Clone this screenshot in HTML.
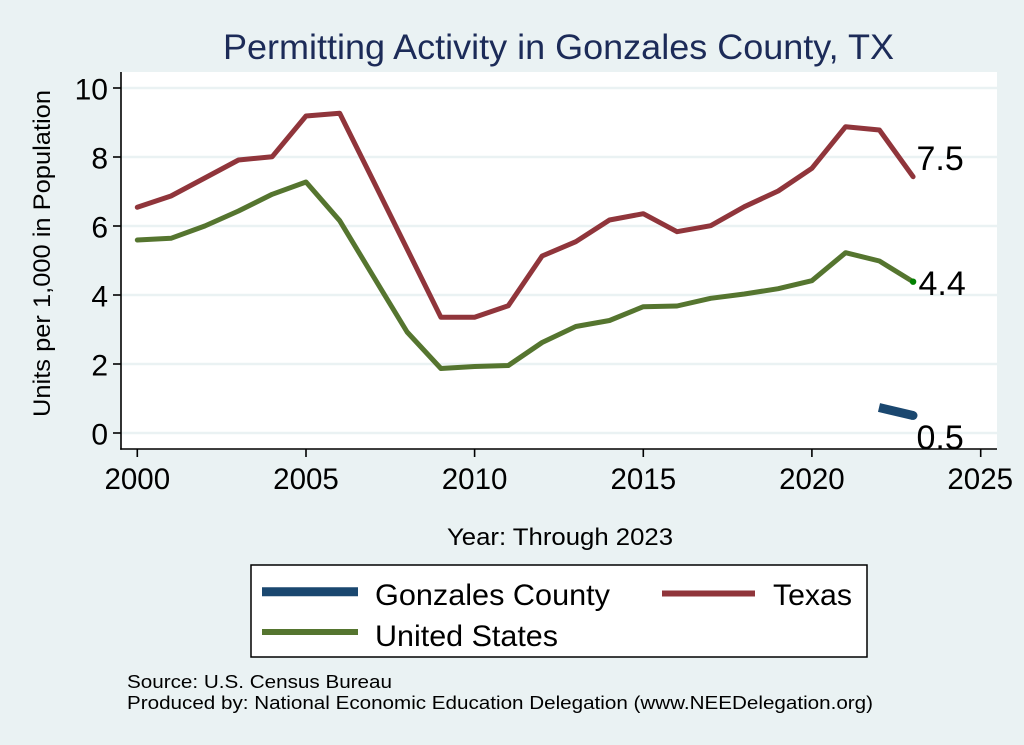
<!DOCTYPE html>
<html>
<head>
<meta charset="utf-8">
<style>
  html,body{margin:0;padding:0;background:#eaf2f3;}
  svg{display:block;}
  text{font-family:"Liberation Sans",Arial,Helvetica,sans-serif;}
</style>
</head>
<body>
<svg width="1024" height="745" viewBox="0 0 1024 745" xmlns="http://www.w3.org/2000/svg">
  <rect x="0" y="0" width="1024" height="745" fill="#eaf2f3"/>
  <!-- Title -->
  <text x="223" y="59" font-size="35" fill="#1c2b58" textLength="671" lengthAdjust="spacingAndGlyphs">Permitting Activity in Gonzales County, TX</text>

  <!-- Plot region -->
  <rect x="121" y="72" width="876" height="377" fill="#ffffff"/>
  <!-- gridlines -->
  <g stroke="#eaf2f3" stroke-width="2.5">
    <line x1="121" y1="88" x2="997" y2="88"/>
    <line x1="121" y1="157" x2="997" y2="157"/>
    <line x1="121" y1="226" x2="997" y2="226"/>
    <line x1="121" y1="295" x2="997" y2="295"/>
    <line x1="121" y1="364" x2="997" y2="364"/>
    <line x1="121" y1="433" x2="997" y2="433"/>
  </g>

  <!-- Axes -->
  <g stroke="#000" stroke-width="1.6" fill="none">
    <line x1="121" y1="72" x2="121" y2="449.8"/>
    <line x1="120.2" y1="449" x2="997" y2="449"/>
    <!-- y ticks -->
    <line x1="113" y1="88" x2="121" y2="88"/>
    <line x1="113" y1="157" x2="121" y2="157"/>
    <line x1="113" y1="226" x2="121" y2="226"/>
    <line x1="113" y1="295" x2="121" y2="295"/>
    <line x1="113" y1="364" x2="121" y2="364"/>
    <line x1="113" y1="433" x2="121" y2="433"/>
    <!-- x ticks -->
    <line x1="137.3" y1="449" x2="137.3" y2="457"/>
    <line x1="306" y1="449" x2="306" y2="457"/>
    <line x1="474.6" y1="449" x2="474.6" y2="457"/>
    <line x1="643.3" y1="449" x2="643.3" y2="457"/>
    <line x1="811.9" y1="449" x2="811.9" y2="457"/>
    <line x1="980.7" y1="449" x2="980.7" y2="457"/>
  </g>

  <!-- Y tick labels -->
  <g font-size="30" fill="#000" text-anchor="end">
    <text x="108" y="99.5">10</text>
    <text x="108" y="168.5">8</text>
    <text x="108" y="237.5">6</text>
    <text x="108" y="306.5">4</text>
    <text x="108" y="375.5">2</text>
    <text x="108" y="444.5">0</text>
  </g>
  <!-- X tick labels -->
  <g font-size="29.5" fill="#000" text-anchor="middle">
    <text x="137.3" y="489">2000</text>
    <text x="306" y="489">2005</text>
    <text x="474.6" y="489">2010</text>
    <text x="643.3" y="489">2015</text>
    <text x="811.9" y="489">2020</text>
    <text x="980.2" y="489">2025</text>
  </g>

  <!-- Axis titles -->
  <text transform="translate(50,253.5) rotate(-90)" font-size="24" text-anchor="middle" fill="#000" textLength="327" lengthAdjust="spacingAndGlyphs">Units per 1,000 in Population</text>
  <text x="447" y="545" font-size="24" fill="#000" textLength="226" lengthAdjust="spacingAndGlyphs">Year: Through 2023</text>

  <!-- Series -->
  <polyline fill="none" stroke="#90353b" stroke-width="5" stroke-linejoin="round" stroke-linecap="round"
    points="137.3,207.3 171,196 204.8,178 238.5,160 272.2,156.7 306,116 339.7,113.3 373.4,181 407.1,249 440.9,317.3 474.6,317.3 508.3,305.7 542.1,256 575.8,241.7 609.5,220 643.3,213.7 677,231.7 710.7,225.7 744.4,206.7 778.2,191 811.9,168.3 845.6,126.7 879.4,130 913.1,176.7"/>
  <polyline fill="none" stroke="#55752f" stroke-width="5" stroke-linejoin="round" stroke-linecap="round"
    points="137.3,240 171,238.3 204.8,226 238.5,211 272.2,194.3 306,182 339.7,220.7 373.4,276.5 407.1,332 440.9,368.5 474.6,366.5 508.3,365.5 542.1,342.5 575.8,326.5 609.5,320.5 643.3,306.7 677,306 710.7,298.3 744.4,294 778.2,288.7 811.9,280.7 845.6,252.7 879.4,261 913.1,281.7"/>
  <circle cx="913.1" cy="281.7" r="3.2" fill="#008000"/>
  <line x1="879" y1="407.5" x2="913" y2="415.5" stroke="#1a476f" stroke-width="9" stroke-linecap="butt"/>
  <circle cx="913" cy="415.5" r="4.5" fill="#1a476f"/>

  <!-- End labels -->
  <g font-size="34" fill="#000">
    <text x="916.5" y="170">7.5</text>
    <text x="918.5" y="295">4.4</text>
    <text x="916.5" y="449">0.5</text>
  </g>

  <!-- Legend -->
  <rect x="251" y="565" width="616" height="92" fill="#ffffff" stroke="#000" stroke-width="1.5"/>
  <line x1="262" y1="591.7" x2="358" y2="591.7" stroke="#1a476f" stroke-width="9"/>
  <line x1="662" y1="593.5" x2="755" y2="593.5" stroke="#90353b" stroke-width="6"/>
  <line x1="262" y1="632" x2="358" y2="632" stroke="#55752f" stroke-width="6"/>
  <g font-size="30" fill="#000">
    <text x="375" y="605" textLength="235" lengthAdjust="spacingAndGlyphs">Gonzales County</text>
    <text x="773" y="605" textLength="79" lengthAdjust="spacingAndGlyphs">Texas</text>
    <text x="375" y="646" textLength="183" lengthAdjust="spacingAndGlyphs">United States</text>
  </g>

  <!-- Footer -->
  <g font-size="18" fill="#000">
    <text x="127" y="688" textLength="265" lengthAdjust="spacingAndGlyphs">Source: U.S. Census Bureau</text>
    <text x="127" y="709" textLength="746" lengthAdjust="spacingAndGlyphs">Produced by: National Economic Education Delegation (www.NEEDelegation.org)</text>
  </g>
</svg>
</body>
</html>
